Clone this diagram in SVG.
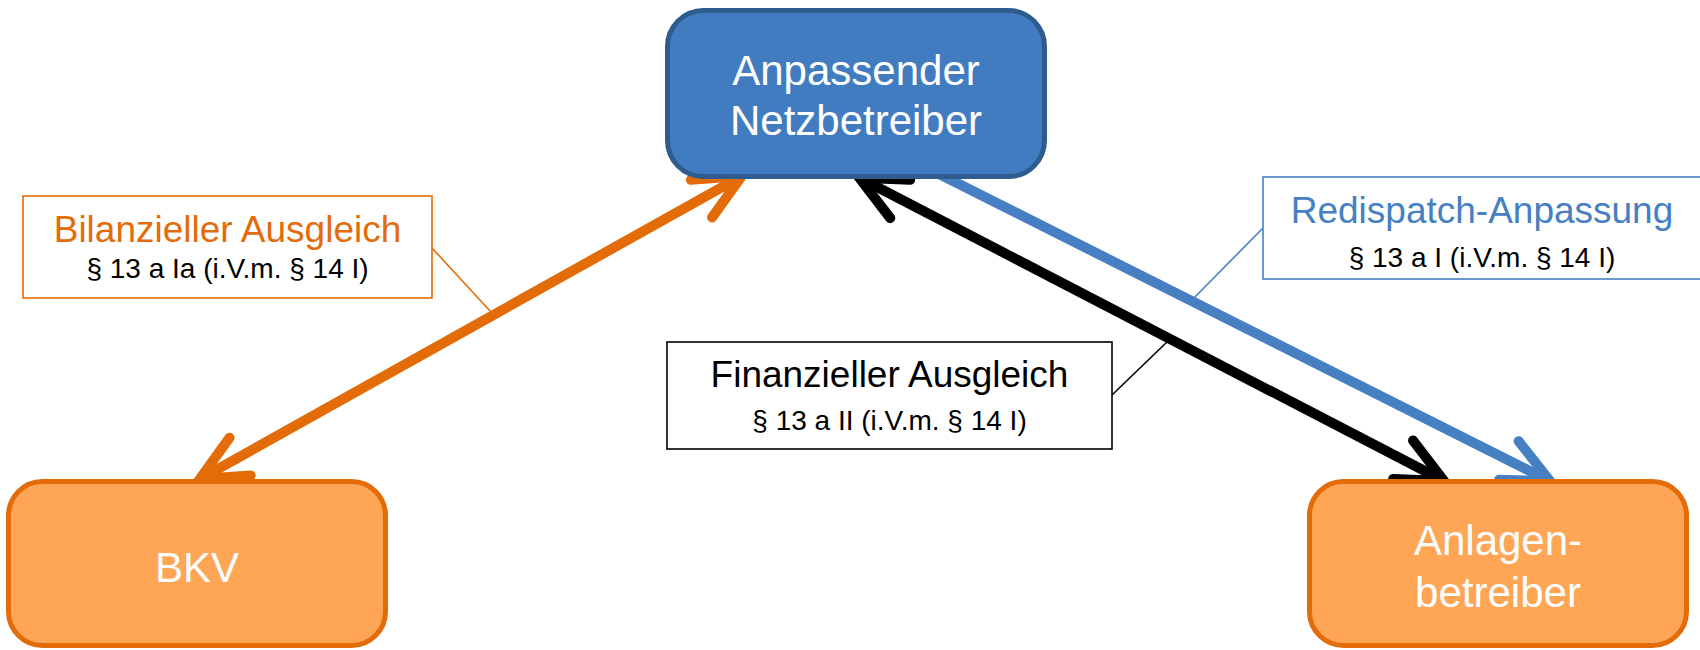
<svg xmlns="http://www.w3.org/2000/svg" width="1700" height="650" viewBox="0 0 1700 650">
<style>
text{font-family:"Liberation Sans",Arial,sans-serif;text-anchor:middle}
.node-blue{fill:#427CC0;stroke:#2F5C8F;stroke-width:5}
.node-orange{fill:#FEA556;stroke:#E36C09;stroke-width:5}
.ntext{fill:#ffffff;font-size:42px}
.lbl{fill:#ffffff;stroke-width:1.6}
.ltitle{font-size:37px}
.lsub{font-size:28px;fill:#000000}
.conn{fill:none;stroke-width:10}
.leader{fill:none;stroke-width:1.6}
</style>
<defs>
<marker id="arrOrange" markerUnits="userSpaceOnUse" orient="auto-start-reverse" refX="0" refY="0" markerWidth="1" markerHeight="1" overflow="visible">
<path d="M-46.2,-21.6 L0,0 L-46.2,21.6" fill="none" stroke="#E36C09" stroke-width="10" stroke-linecap="round" stroke-linejoin="miter"/>
</marker>
<marker id="arrBlack" markerUnits="userSpaceOnUse" orient="auto-start-reverse" refX="0" refY="0" markerWidth="1" markerHeight="1" overflow="visible">
<path d="M-46.2,-21.6 L0,0 L-46.2,21.6" fill="none" stroke="#000000" stroke-width="10" stroke-linecap="round" stroke-linejoin="miter"/>
</marker>
<marker id="arrBlue" markerUnits="userSpaceOnUse" orient="auto-start-reverse" refX="0" refY="0" markerWidth="1" markerHeight="1" overflow="visible">
<path d="M-46.2,-21.6 L0,0 L-46.2,21.6" fill="none" stroke="#4680C2" stroke-width="10" stroke-linecap="round" stroke-linejoin="miter"/>
</marker>
</defs>

<g id="connectors">
<path class="conn" d="M199.8,479.1 L741.8,176.1" stroke="#E36C09" marker-start="url(#arrOrange)" marker-end="url(#arrOrange)"/>
<path class="conn" d="M859.2,177.7 L1444.1,481" stroke="#000000" marker-start="url(#arrBlack)" marker-end="url(#arrBlack)"/>
<path class="conn" d="M935,172 L1550.2,481.2" stroke="#4680C2" marker-end="url(#arrBlue)"/>
<path class="leader" d="M432,248 L491,312" stroke="#E36C09"/>
<path class="leader" d="M1112,395 L1168,341" stroke="#000000"/>
<path class="leader" d="M1263,228 L1192,300" stroke="#4680C2"/>
</g>

<g id="node-netzbetreiber">
<rect class="node-blue" x="667.5" y="10.5" width="377" height="166" rx="36" ry="36"/>
<text class="ntext" x="856" y="85">Anpassender</text>
<text class="ntext" x="856" y="135">Netzbetreiber</text>
</g>

<g id="node-bkv">
<rect class="node-orange" x="8.5" y="481.5" width="377" height="164" rx="34" ry="34"/>
<text class="ntext" x="197" y="582">BKV</text>
</g>

<g id="node-anlagenbetreiber">
<rect class="node-orange" x="1309.5" y="481.5" width="377" height="164" rx="34" ry="34"/>
<text class="ntext" x="1498" y="555">Anlagen-</text>
<text class="ntext" x="1498" y="607">betreiber</text>
</g>

<g id="label-bilanziell">
<rect class="lbl" x="23" y="196" width="409" height="102" stroke="#E36C09"/>
<text class="ltitle" x="227.5" y="242" fill="#E36C09">Bilanzieller Ausgleich</text>
<text class="lsub" x="227.5" y="278">§ 13 a Ia (i.V.m. § 14 I)</text>
</g>

<g id="label-redispatch">
<rect class="lbl" x="1263" y="177" width="442" height="102" stroke="#4680C2"/>
<text class="ltitle" x="1482" y="223" fill="#4680C2">Redispatch-Anpassung</text>
<text class="lsub" x="1482" y="267">§ 13 a I (i.V.m. § 14 I)</text>
</g>

<g id="label-finanziell">
<rect class="lbl" x="667" y="342" width="445" height="107" stroke="#000000"/>
<text class="ltitle" x="889.5" y="387" fill="#000000">Finanzieller Ausgleich</text>
<text class="lsub" x="889.5" y="430">§ 13 a II (i.V.m. § 14 I)</text>
</g>
</svg>
